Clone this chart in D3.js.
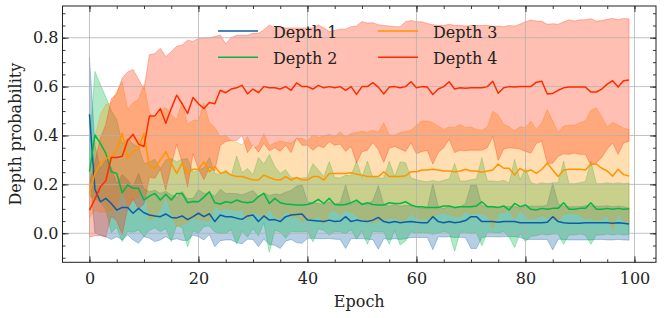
<!DOCTYPE html>
<html><head><meta charset="utf-8">
<script src="https://cdn.jsdelivr.net/npm/d3@7"></script>
<style>html,body{margin:0;padding:0;background:#fff;}svg{display:block;font-family:"DejaVu Serif",serif;}</style>
</head><body><svg id="c" width="664" height="318"></svg>
<script>
const epochs = d3.range(0, 100);
const seriesNames = ["Depth 1", "Depth 2", "Depth 3", "Depth 4"];
const seriesColors = ["#0C5DA5", "#00B945", "#FF9500", "#FF2C00"];
const xTicks = [0, 20, 40, 60, 80, 100];
const yTicks = [0.0, 0.2, 0.4, 0.6, 0.8];

const depth1Mean = [0.487,0.18,0.129,0.143,0.122,0.095,0.106,0.106,0.082,0.102,
0.084,0.075,0.071,0.068,0.079,0.065,0.063,0.071,0.056,0.068,
0.082,0.068,0.08,0.048,0.075,0.068,0.068,0.062,0.057,0.071,
0.075,0.048,0.071,0.054,0.056,0.048,0.068,0.075,0.077,0.079,
0.054,0.052,0.05,0.048,0.054,0.048,0.05,0.068,0.048,0.054,
0.05,0.048,0.054,0.065,0.048,0.043,0.048,0.043,0.046,0.048,
0.045,0.043,0.043,0.068,0.048,0.043,0.048,0.043,0.046,0.052,
0.068,0.068,0.048,0.048,0.048,0.045,0.048,0.048,0.048,0.043,
0.043,0.043,0.043,0.043,0.045,0.068,0.048,0.043,0.041,0.041,
0.041,0.043,0.043,0.043,0.043,0.043,0.041,0.043,0.041,0.038];
const depth1Std = [0.23,0.18,0.136,0.157,0.147,0.109,0.133,0.113,0.109,0.143,
0.098,0.095,0.105,0.095,0.093,0.092,0.085,0.1,0.085,0.075,
0.096,0.095,0.085,0.103,0.105,0.095,0.095,0.1,0.1,0.095,
0.1,0.103,0.095,0.1,0.105,0.11,0.1,0.1,0.115,0.12,
0.075,0.072,0.072,0.07,0.075,0.072,0.075,0.13,0.07,0.075,
0.072,0.072,0.08,0.13,0.07,0.068,0.07,0.068,0.068,0.065,
0.062,0.06,0.06,0.135,0.062,0.058,0.062,0.06,0.062,0.07,
0.13,0.13,0.065,0.062,0.062,0.06,0.062,0.062,0.062,0.06,
0.068,0.068,0.068,0.068,0.07,0.136,0.072,0.068,0.068,0.068,
0.068,0.07,0.07,0.068,0.068,0.07,0.068,0.068,0.068,0.066];

const depth2Mean = [0.252,0.402,0.368,0.327,0.252,0.245,0.166,0.198,0.184,0.184,
0.136,0.152,0.163,0.136,0.16,0.136,0.163,0.163,0.125,0.13,
0.129,0.148,0.17,0.125,0.12,0.129,0.125,0.136,0.128,0.125,
0.129,0.15,0.163,0.122,0.143,0.125,0.12,0.118,0.116,0.116,
0.118,0.125,0.139,0.122,0.143,0.118,0.116,0.118,0.125,0.136,
0.118,0.125,0.118,0.116,0.116,0.125,0.122,0.122,0.129,0.116,
0.109,0.109,0.106,0.106,0.106,0.112,0.112,0.106,0.109,0.109,
0.109,0.112,0.129,0.109,0.109,0.106,0.112,0.095,0.122,0.109,
0.116,0.098,0.095,0.102,0.098,0.102,0.102,0.125,0.098,0.098,
0.102,0.102,0.125,0.098,0.098,0.102,0.098,0.102,0.098,0.1];
const depth2Std = [0.1,0.26,0.24,0.23,0.25,0.22,0.2,0.19,0.18,0.17,
0.15,0.14,0.14,0.13,0.14,0.17,0.13,0.14,0.18,0.12,
0.13,0.12,0.14,0.12,0.12,0.13,0.11,0.18,0.12,0.14,
0.11,0.16,0.12,0.2,0.13,0.12,0.14,0.11,0.11,0.11,
0.11,0.16,0.12,0.11,0.15,0.11,0.11,0.12,0.11,0.16,
0.11,0.17,0.11,0.11,0.11,0.17,0.11,0.17,0.16,0.11,
0.11,0.105,0.105,0.11,0.105,0.105,0.11,0.18,0.105,0.105,
0.11,0.11,0.18,0.105,0.105,0.105,0.105,0.11,0.18,0.11,
0.15,0.11,0.105,0.105,0.105,0.105,0.105,0.17,0.105,0.105,
0.105,0.11,0.17,0.105,0.105,0.105,0.105,0.105,0.105,0.105];

const depth3Mean = [0.163,0.245,0.286,0.307,0.313,0.34,0.409,0.307,0.334,0.348,
0.409,0.273,0.266,0.3,0.334,0.286,0.245,0.286,0.245,0.262,
0.262,0.292,0.252,0.273,0.245,0.252,0.238,0.232,0.232,0.225,
0.218,0.218,0.238,0.228,0.22,0.218,0.232,0.218,0.228,0.218,
0.218,0.232,0.232,0.218,0.245,0.245,0.245,0.245,0.248,0.242,
0.238,0.232,0.232,0.232,0.252,0.232,0.232,0.232,0.235,0.252,
0.252,0.259,0.259,0.262,0.259,0.255,0.255,0.252,0.255,0.262,
0.255,0.255,0.25,0.255,0.259,0.283,0.266,0.266,0.238,0.266,
0.252,0.259,0.245,0.262,0.286,0.259,0.232,0.259,0.262,0.262,
0.262,0.259,0.283,0.283,0.266,0.255,0.234,0.262,0.24,0.234];
const depth3Std = [0.1,0.15,0.2,0.22,0.22,0.24,0.21,0.2,0.2,0.2,
0.2,0.22,0.2,0.2,0.18,0.2,0.22,0.25,0.2,0.2,
0.2,0.24,0.2,0.16,0.15,0.15,0.14,0.14,0.13,0.17,
0.13,0.14,0.17,0.13,0.15,0.16,0.14,0.15,0.16,0.17,
0.16,0.17,0.16,0.18,0.16,0.15,0.17,0.15,0.16,0.17,
0.18,0.18,0.19,0.18,0.2,0.17,0.17,0.18,0.18,0.17,
0.19,0.2,0.2,0.19,0.18,0.17,0.18,0.18,0.19,0.17,
0.18,0.17,0.17,0.18,0.24,0.2,0.18,0.17,0.18,0.17,
0.18,0.2,0.18,0.19,0.22,0.2,0.18,0.18,0.18,0.18,
0.19,0.2,0.22,0.23,0.21,0.18,0.22,0.18,0.19,0.19];

const depth4Mean = [0.095,0.14,0.19,0.215,0.31,0.31,0.315,0.38,0.405,0.365,
0.355,0.48,0.48,0.51,0.45,0.51,0.565,0.53,0.49,0.555,
0.53,0.51,0.535,0.53,0.585,0.575,0.59,0.595,0.605,0.57,
0.59,0.575,0.6,0.595,0.595,0.59,0.6,0.585,0.615,0.6,
0.6,0.59,0.605,0.595,0.6,0.595,0.6,0.585,0.6,0.568,
0.6,0.6,0.616,0.598,0.57,0.598,0.6,0.595,0.6,0.62,
0.595,0.6,0.598,0.568,0.59,0.6,0.62,0.59,0.595,0.593,
0.595,0.595,0.595,0.6,0.622,0.573,0.595,0.6,0.598,0.6,
0.6,0.6,0.618,0.622,0.57,0.572,0.585,0.595,0.598,0.598,
0.598,0.598,0.578,0.578,0.59,0.61,0.624,0.598,0.624,0.627];
const depth4Std = [0.11,0.15,0.2,0.23,0.24,0.26,0.32,0.28,0.265,0.265,
0.235,0.25,0.255,0.247,0.273,0.233,0.2,0.24,0.3,0.23,
0.267,0.29,0.265,0.275,0.226,0.2,0.21,0.215,0.205,0.24,
0.228,0.243,0.232,0.257,0.245,0.255,0.24,0.255,0.225,0.24,
0.24,0.25,0.247,0.245,0.225,0.235,0.235,0.25,0.245,0.28,
0.266,0.26,0.245,0.255,0.28,0.25,0.245,0.25,0.265,0.25,
0.27,0.265,0.26,0.285,0.26,0.25,0.235,0.26,0.255,0.255,
0.255,0.255,0.255,0.25,0.225,0.275,0.25,0.25,0.25,0.255,
0.265,0.272,0.25,0.245,0.285,0.285,0.27,0.27,0.275,0.27,
0.275,0.275,0.3,0.29,0.28,0.265,0.255,0.275,0.255,0.25];

const means = [depth1Mean, depth2Mean, depth3Mean, depth4Mean];
const stds = [depth1Std, depth2Std, depth3Std, depth4Std];

const svg = d3.select("#c");
const L = 62.5, R = 656, T = 6, B = 262.3;
const x = d3.scaleLinear().domain([-4.95, 103.95]).range([L, R]);
const y = d3.scaleLinear().domain([-0.1186, 0.9297]).range([B, T]);

svg.append("rect").attr("width", 664).attr("height", 318).attr("fill", "#fff");

const plot = svg.append("g");
means.forEach((m, k) => {
  const s = stds[k];
  const area = d3.area()
    .x((d, i) => x(epochs[i]))
    .y0((d, i) => y(m[i] - s[i]))
    .y1((d, i) => y(m[i] + s[i]));
  plot.append("path").datum(m).attr("d", area)
    .attr("fill", seriesColors[k]).attr("fill-opacity", 0.3)
    .attr("stroke", seriesColors[k]).attr("stroke-opacity", 0.3)
    .attr("stroke-width", 1);
});

const grid = svg.append("g").attr("stroke", "#b0b0b0").attr("stroke-width", 0.9).attr("stroke-opacity", 0.85);
xTicks.forEach(t => grid.append("line").attr("x1", x(t)).attr("x2", x(t)).attr("y1", T).attr("y2", B));
yTicks.forEach(t => grid.append("line").attr("y1", y(t)).attr("y2", y(t)).attr("x1", L).attr("x2", R));

means.forEach((m, k) => {
  const line = d3.line().x((d, i) => x(epochs[i])).y(d => y(d));
  svg.append("path").datum(m).attr("d", line)
    .attr("fill", "none").attr("stroke", seriesColors[k])
    .attr("stroke-width", 1.5).attr("stroke-linejoin", "round");
});

const fmtY = d3.format(".1f");
const xMinor = d3.range(0, 105, 5);
const yMinor = d3.range(-0.1, 0.95, 0.05).map(v => +v.toFixed(2));
function styleAxis(g) {
  g.select(".domain").remove();
  g.selectAll("line").attr("stroke", "#222").attr("stroke-width", 0.9);
  g.selectAll("text").attr("fill", "#222").attr("font-family", "DejaVu Serif").attr("font-size", 16);
}
svg.append("g").attr("transform", `translate(0,${B})`)
  .call(d3.axisBottom(x).tickValues(xTicks).tickSize(-6).tickPadding(10).tickFormat(d3.format("d"))).call(styleAxis);
svg.append("g").attr("transform", `translate(0,${B})`)
  .call(d3.axisBottom(x).tickValues(xMinor).tickSize(-3).tickFormat("")).call(styleAxis);
svg.append("g").attr("transform", `translate(0,${T})`)
  .call(d3.axisTop(x).tickValues(xTicks).tickSize(-6).tickFormat("")).call(styleAxis);
svg.append("g").attr("transform", `translate(0,${T})`)
  .call(d3.axisTop(x).tickValues(xMinor).tickSize(-3).tickFormat("")).call(styleAxis);
svg.append("g").attr("transform", `translate(${L},0)`)
  .call(d3.axisLeft(y).tickValues(yTicks).tickSize(-6).tickPadding(4).tickFormat(fmtY)).call(styleAxis);
svg.append("g").attr("transform", `translate(${L},0)`)
  .call(d3.axisLeft(y).tickValues(yMinor).tickSize(-3).tickFormat("")).call(styleAxis);
svg.append("g").attr("transform", `translate(${R},0)`)
  .call(d3.axisRight(y).tickValues(yTicks).tickSize(-6).tickFormat("")).call(styleAxis);
svg.append("g").attr("transform", `translate(${R},0)`)
  .call(d3.axisRight(y).tickValues(yMinor).tickSize(-3).tickFormat("")).call(styleAxis);

svg.append("rect").attr("x", L).attr("y", T).attr("width", R - L).attr("height", B - T)
  .attr("fill", "none").attr("stroke", "#222").attr("stroke-width", 1);

svg.append("text").attr("x", (L + R) / 2).attr("y", 307).attr("text-anchor", "middle")
  .attr("font-size", 16).attr("fill", "#222").text("Epoch");
svg.append("text").attr("transform", `translate(20.5,${(T + B) / 2}) rotate(-90)`)
  .attr("text-anchor", "middle").attr("font-size", 16).attr("fill", "#222").text("Depth probability");

const legPos = [[218, 31], [218, 57.3], [378, 31], [378, 57.3]];
seriesNames.forEach((n, k) => {
  const [lx, ly] = legPos[k];
  svg.append("line").attr("x1", lx).attr("x2", lx + 40).attr("y1", ly).attr("y2", ly)
    .attr("stroke", seriesColors[k]).attr("stroke-width", 1.6);
  svg.append("text").attr("x", lx + 55).attr("y", ly + 6.5).attr("font-size", 16)
    .attr("fill", "#222").text(n);
});
</script></body></html>
